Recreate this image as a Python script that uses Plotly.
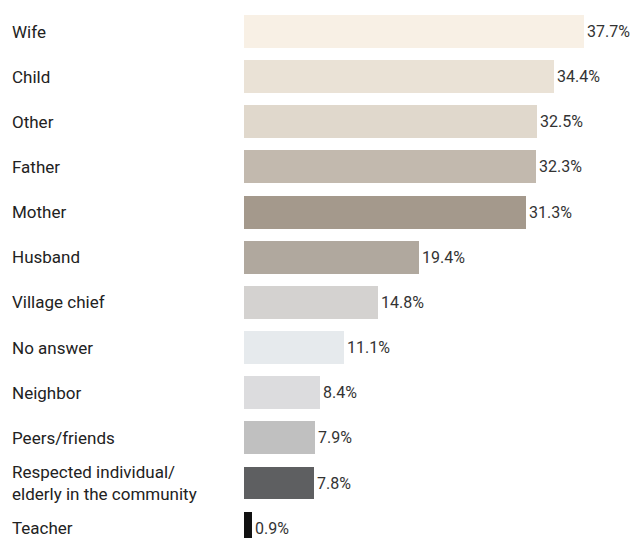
import plotly.graph_objects as go

categories = ["Wife", "Child", "Other", "Father", "Mother", "Husband", "Village chief",
              "No answer", "Neighbor", "Peers/friends",
              "Respected individual/<br>elderly in the community", "Teacher"]
values = [37.7, 34.4, 32.5, 32.3, 31.3, 19.4, 14.8, 11.1, 8.4, 7.9, 7.8, 0.9]
colors = ["#F8F0E5", "#EAE2D6", "#E0D8CC", "#C2B9AE", "#A4998C", "#B0A89E",
          "#D4D2D0", "#E6EAED", "#DCDCDE", "#C0C0C0", "#5E5F61", "#111111"]

FONT = "Roboto, sans-serif"

idx = list(range(len(categories)))
fig = go.Figure(go.Bar(
    x=values, y=idx, orientation="h",
    marker=dict(color=colors, line=dict(width=0)),
    width=0.73,
    text=[f"{v:.1f}%" for v in values], textposition="outside",
    textfont=dict(family=FONT, size=16, color="#333333"),
    cliponaxis=False,
))

L = 244
W = 361
xmax = 40.0
for i, c in enumerate(categories):
    fig.add_annotation(x=(10 - L) / W, y=i, xref="paper", yref="y", text=c,
                       showarrow=False, xanchor="left", yanchor="middle", align="left",
                       font=dict(family=FONT, size=17, color="#222222"))

fig.update_layout(
    width=642, height=538,
    margin=dict(l=L, r=642 - L - W, t=0, b=0),
    plot_bgcolor="white", paper_bgcolor="white",
    showlegend=False,
    xaxis=dict(range=[0, xmax], visible=False),
    yaxis=dict(range=[11.218, -0.698], visible=False),
    bargap=0,
)
fig.write_html("out.html")
